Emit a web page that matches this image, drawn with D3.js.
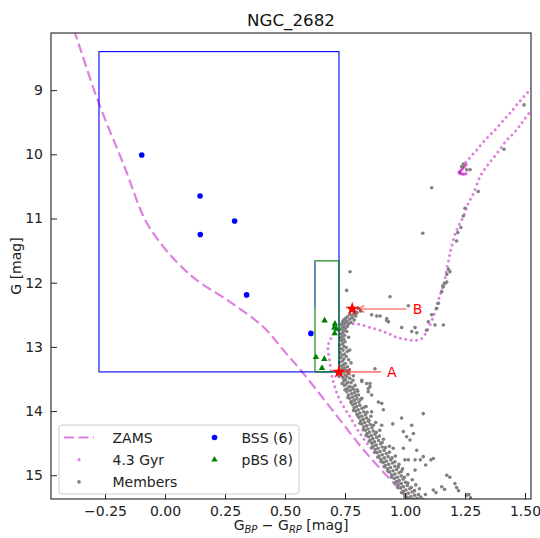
<!DOCTYPE html>
<html>
<head>
<meta charset="utf-8">
<script src="https://cdn.jsdelivr.net/npm/d3@7"></script>
<style>
  body { margin: 0; background: #fff; }
  svg { font-family: "DejaVu Sans", sans-serif; }
</style>
</head>
<body>
<div id="chart"></div>
<script>
// ---- data ----
const title = 'NGC_2682';
const xTicks = [-0.25, 0, 0.25, 0.5, 0.75, 1, 1.25, 1.5];
const yTicks = [9, 10, 11, 12, 13, 14, 15];

// [colour BP-RP, G]
const bssStars = [[-0.097, 10.01], [0.146, 10.65], [0.147, 11.25], [0.290, 11.04], [0.340, 12.19], [0.608, 12.79]];
const pbsStars = [[0.665, 12.59], [0.708, 12.64], [0.705, 12.70], [0.714, 12.72], [0.707, 12.79],
                  [0.629, 13.16], [0.664, 13.19], [0.654, 13.33]];

// selection boxes: [x0, x1, g0, g1]
const bssBox = [-0.275, 0.725, 8.40, 13.39];
const pbsBox = [0.625, 0.725, 11.66, 13.39];
const bssEdge = [[0.625, 11.66], [0.625, 12.40]];

const zams = [[-0.40, 7.85], [-0.375, 8.11], [-0.28, 9.16], [-0.167, 10.21], [-0.083, 11.02], [-0.007, 11.44],
              [0.060, 11.72], [0.132, 11.96], [0.271, 12.30], [0.410, 12.69], [0.493, 13.05], [0.576, 13.41],
              [0.690, 13.95], [0.840, 14.66], [0.979, 15.23], [1.03, 15.45]];

// 4.3 Gyr isochrone: MS -> turn-off -> SGB -> RGB
const isoMain = [[1.04, 15.45], [1.007, 15.33], [0.965, 15.07], [0.924, 14.92], [0.868, 14.63], [0.8125, 14.35],
                 [0.771, 14.09], [0.729, 13.83], [0.701, 13.54], [0.686, 13.22], [0.680, 12.97], [0.700, 12.82],
                 [0.740, 12.70], [0.785, 12.64], [0.868, 12.71], [0.924, 12.78], [0.965, 12.85], [1.000, 12.88],
                 [1.035, 12.90], [1.070, 12.87], [1.090, 12.76], [1.118, 12.53], [1.139, 12.27], [1.160, 12.03],
                 [1.178, 11.72], [1.194, 11.44], [1.215, 11.18], [1.243, 10.97], [1.264, 10.76], [1.285, 10.61],
                 [1.3125, 10.35], [1.340, 10.19], [1.382, 9.99], [1.424, 9.78], [1.465, 9.62], [1.500, 9.44],
                 [1.560, 9.15]];
// red clump -> AGB
const isoAgb = [[1.229, 10.27], [1.250, 10.14], [1.292, 9.96], [1.333, 9.78], [1.375, 9.62], [1.410, 9.47],
                [1.4375, 9.36], [1.470, 9.21], [1.510, 9.04], [1.560, 8.86]];
const isoClump = [[1.255, 10.16], [1.250, 10.18], [1.245, 10.20], [1.240, 10.22], [1.235, 10.24], [1.230, 10.26],
                  [1.225, 10.28], [1.228, 10.30], [1.234, 10.30], [1.240, 10.31], [1.247, 10.31], [1.254, 10.30]];

const members = [
  // turn-off
  [0.790, 12.45], [0.800, 12.47], [0.785, 12.49], [0.772, 12.50], [0.795, 12.52], [0.760, 12.53], [0.780, 12.54],
  [0.752, 12.56], [0.770, 12.57], [0.745, 12.58], [0.788, 12.58], [0.758, 12.60], [0.740, 12.61], [0.775, 12.62],
  [0.750, 12.63], [0.765, 12.64], [0.735, 12.65], [0.745, 12.67], [0.760, 12.68], [0.738, 12.70], [0.752, 12.71],
  [0.733, 12.73], [0.745, 12.75], [0.757, 12.76], [0.740, 12.78], [0.732, 12.80], [0.748, 12.82], [0.738, 12.84],
  [0.730, 12.86], [0.745, 12.88], [0.805, 12.40], [0.815, 12.44], [0.798, 12.46],
  // upper main sequence
  [0.735, 12.90], [0.750, 12.92], [0.740, 12.95], [0.728, 12.97], [0.745, 12.99], [0.755, 13.01], [0.733, 13.03],
  [0.742, 13.05], [0.760, 13.07], [0.730, 13.09], [0.748, 13.11], [0.738, 13.13], [0.755, 13.15], [0.732, 13.17],
  [0.745, 13.19], [0.765, 13.20], [0.740, 13.22], [0.728, 13.24], [0.752, 13.26], [0.744, 13.28], [0.735, 13.30],
  [0.760, 13.31], [0.748, 13.33], [0.738, 13.35], [0.755, 13.37], [0.742, 13.39], [0.765, 13.41], [0.733, 13.42],
  [0.750, 13.44], [0.758, 13.46], [0.742, 13.48], [0.770, 13.49], [0.752, 13.51], [0.745, 13.53], [0.762, 13.55],
  [0.775, 13.56], [0.755, 13.58], [0.748, 13.60], [0.768, 13.62], [0.780, 13.63],
  [0.760, 13.65], [0.785, 13.66], [0.772, 13.68], [0.758, 13.70], [0.790, 13.71], [0.778, 13.73], [0.765, 13.75],
  [0.795, 13.76], [0.782, 13.78], [0.770, 13.80], [0.800, 13.81], [0.788, 13.83], [0.775, 13.85], [0.808, 13.86],
  [0.793, 13.88], [0.782, 13.90], [0.812, 13.91], [0.798, 13.93], [0.788, 13.95], [0.820, 13.96], [0.805, 13.98],
  [0.795, 14.00], [0.828, 14.01], [0.812, 14.03],
  [0.768, 13.36], [0.726, 13.46], [0.783, 13.52], [0.738, 13.57], [0.792, 13.60], [0.750, 13.67], [0.803, 13.69],
  [0.762, 13.79], [0.815, 13.82], [0.776, 13.87], [0.830, 13.94], [0.786, 13.99], [0.842, 14.02], [0.785, 13.45],
  [0.775, 13.25], [0.770, 13.05], [0.765, 12.85], [0.800, 13.67], [0.820, 13.80], [0.838, 13.93],
  // lower main sequence
  [0.800, 14.05], [0.835, 14.06], [0.820, 14.08], [0.808, 14.10], [0.840, 14.11], [0.826, 14.13], [0.815, 14.15],
  [0.848, 14.16], [0.832, 14.18], [0.820, 14.20], [0.855, 14.21], [0.840, 14.23], [0.828, 14.25], [0.862, 14.26],
  [0.846, 14.28], [0.835, 14.30], [0.868, 14.31], [0.852, 14.33], [0.842, 14.35], [0.875, 14.36], [0.860, 14.38],
  [0.848, 14.40], [0.882, 14.41], [0.866, 14.43], [0.855, 14.45], [0.890, 14.46], [0.873, 14.48], [0.862, 14.50],
  [0.898, 14.51], [0.880, 14.53], [0.868, 14.55], [0.905, 14.56], [0.888, 14.58], [0.876, 14.60], [0.913, 14.61],
  [0.896, 14.63], [0.884, 14.65], [0.922, 14.66], [0.905, 14.68], [0.892, 14.70], [0.930, 14.71], [0.914, 14.73],
  [0.900, 14.75], [0.940, 14.76], [0.922, 14.78], [0.910, 14.80], [0.948, 14.81], [0.932, 14.83], [0.918, 14.85],
  [0.958, 14.86], [0.940, 14.88], [0.928, 14.90], [0.965, 14.91], [0.950, 14.93], [0.936, 14.95], [0.975, 14.96],
  [0.958, 14.98], [0.946, 15.00], [0.984, 15.01], [0.968, 15.03], [0.955, 15.05], [0.992, 15.06], [0.976, 15.08],
  [0.964, 15.10], [1.002, 15.11], [0.985, 15.13], [0.972, 15.15], [1.010, 15.16], [0.994, 15.18], [0.982, 15.20],
  [1.020, 15.21], [1.004, 15.23], [0.992, 15.25], [1.030, 15.26], [1.014, 15.28], [1.000, 15.30], [1.040, 15.31],
  [1.024, 15.33], [1.010, 15.35], [1.050, 15.36], [1.035, 15.37], [1.065, 15.34], [1.075, 15.38],
  [0.803, 14.07], [0.850, 14.14], [0.812, 14.19], [0.868, 14.22], [0.826, 14.29], [0.880, 14.33], [0.838, 14.38],
  [0.893, 14.39], [0.851, 14.47], [0.905, 14.49], [0.862, 14.57], [0.918, 14.57], [0.875, 14.64], [0.935, 14.64],
  [0.888, 14.72], [0.946, 14.73], [0.902, 14.79], [0.958, 14.79], [0.915, 14.87], [0.972, 14.87], [0.930, 14.94],
  [0.985, 14.94], [0.944, 15.03], [0.998, 15.03], [0.958, 15.12], [1.012, 15.12], [0.970, 15.19], [1.026, 15.19],
  [0.986, 15.27], [1.040, 15.24], [1.000, 15.34], [1.056, 15.30], [1.018, 15.38], [1.085, 15.30], [1.060, 15.21],
  [1.045, 15.15], [1.030, 15.07], [1.012, 14.99], [0.990, 14.90], [0.975, 14.83], [0.960, 14.70], [0.935, 14.55],
  [0.910, 14.44], [0.895, 14.30], [0.878, 14.18], [0.858, 14.08],
  // binaries / field to the red of the MS
  [0.820, 13.54], [0.847, 13.65], [0.854, 13.57], [0.861, 13.75], [0.889, 13.86], [0.903, 13.88], [0.861, 14.01],
  [0.910, 13.98], [1.076, 14.04], [0.986, 14.11], [1.028, 14.22], [0.903, 14.22], [0.949, 14.20], [0.993, 14.32],
  [1.035, 14.35], [1.007, 14.40], [1.021, 14.45], [0.951, 14.58], [0.993, 14.58], [1.049, 14.61], [1.000, 14.76],
  [1.014, 14.76], [1.042, 14.76], [1.064, 14.76], [1.108, 14.76], [1.076, 14.71], [1.118, 14.74], [1.086, 14.84],
  [1.042, 14.92], [1.118, 15.23], [1.153, 15.18], [1.174, 15.00], [1.187, 15.03], [1.208, 15.13], [1.215, 15.19],
  [1.223, 15.24], [1.129, 15.27], [1.165, 15.22], [1.257, 15.31], [1.266, 15.30], [1.273, 15.35],
  [0.875, 13.34], [0.820, 13.52], [0.840, 13.57], [0.854, 13.62], [0.847, 13.70], [0.806, 13.75],
  // subgiants and giants
  [0.771, 11.83], [0.757, 12.12], [0.9375, 12.22], [1.014, 12.36], [0.861, 12.50], [0.882, 12.52], [0.896, 12.52],
  [0.924, 12.56], [0.924, 12.59], [0.931, 12.61], [0.986, 12.70], [1.042, 12.70], [1.049, 12.78], [1.028, 12.76],
  [1.090, 12.74], [1.125, 12.66], [1.160, 12.66], [1.097, 12.61], [1.111, 12.50], [1.132, 12.40], [1.139, 12.32],
  [1.153, 12.14], [1.160, 12.06], [1.174, 11.99], [1.157, 12.05], [1.167, 12.01], [1.174, 11.87], [1.1875, 11.83],
  [1.181, 11.79], [1.215, 11.35], [1.220, 11.22], [1.233, 11.14], [1.243, 10.96], [1.250, 10.84], [1.305, 10.58],
  [1.074, 11.23], [1.111, 10.52], [1.236, 10.19], [1.243, 10.15], [1.257, 10.24], [1.271, 10.24], [1.4125, 9.92],
  [1.496, 9.23]
];

// highlighted stars with arrows: star position and where the label starts
const marked = [
  { label: 'A', x: 0.725, g: 13.39, tx: 0.925 },
  { label: 'B', x: 0.780, g: 12.41, tx: 1.032 }
];

const legendLeft = [
  { name: 'ZAMS', kind: 'line' },
  { name: '4.3 Gyr', kind: 'iso' },
  { name: 'Members', kind: 'member' }
];
const legendRight = [
  { name: 'BSS (6)', kind: 'bss' },
  { name: 'pBS (8)', kind: 'pbs' }
];

// ---- layout ----
const W = 540, H = 538;
const margin = { top: 33, right: 9, bottom: 39, left: 51 };
const width = W - margin.left - margin.right;
const height = H - margin.top - margin.bottom;

const ISO = 'rgba(191,0,191,0.5)';
const GRAY = '#808080';

const svg = d3.select('#chart').append('svg')
    .attr('width', W)
    .attr('height', H);

const x = d3.scaleLinear().domain([-0.475, 1.525]).range([0, width]);
const y = d3.scaleLinear().domain([8.11, 15.37]).range([0, height]);

const g = svg.append('g').attr('transform', `translate(${margin.left},${margin.top})`);

g.append('clipPath').attr('id', 'plotclip')
  .append('rect').attr('width', width).attr('height', height);

const plot = g.append('g').attr('clip-path', 'url(#plotclip)');

// ZAMS
const line = d3.line().x(d => x(d[0])).y(d => y(d[1])).curve(d3.curveCatmullRom);
plot.append('path')
    .attr('d', line(zams))
    .attr('fill', 'none')
    .attr('stroke', ISO)
    .attr('stroke-width', 2.2)
    .attr('stroke-dasharray', '10,4.5');

// isochrone drawn as dots
[isoMain, isoAgb].forEach(seg => {
    plot.append('path')
        .attr('d', line(seg))
        .attr('fill', 'none')
        .attr('stroke', ISO)
        .attr('stroke-width', 3)
        .attr('stroke-linecap', 'round')
        .attr('stroke-dasharray', '0,5.5');
});
plot.selectAll('.clump').data(isoClump).enter().append('circle')
    .attr('cx', d => x(d[0])).attr('cy', d => y(d[1])).attr('r', 1.6)
    .attr('fill', ISO);

// members
plot.selectAll('.member').data(members).enter().append('circle')
    .attr('cx', d => x(d[0])).attr('cy', d => y(d[1])).attr('r', 1.8)
    .attr('fill', GRAY);

// boxes
function box(b, color) {
    plot.append('rect')
        .attr('x', x(b[0])).attr('y', y(b[2]))
        .attr('width', x(b[1]) - x(b[0])).attr('height', y(b[3]) - y(b[2]))
        .attr('fill', 'none').attr('stroke', color).attr('stroke-width', 1.1);
}
box(bssBox, '#0000ff');
box(pbsBox, '#008000');
plot.append('path').attr('d', d3.line().x(d => x(d[0])).y(d => y(d[1]))(bssEdge))
    .attr('stroke', '#5a6cf0').attr('stroke-width', 1.1).attr('fill', 'none');

// BSS and pBS
plot.selectAll('.bss').data(bssStars).enter().append('circle')
    .attr('cx', d => x(d[0])).attr('cy', d => y(d[1])).attr('r', 2.8)
    .attr('fill', '#0000ff');
const tri = d3.symbol().type(d3.symbolTriangle).size(18);
plot.selectAll('.pbs').data(pbsStars).enter().append('path')
    .attr('d', tri)
    .attr('transform', d => `translate(${x(d[0])},${y(d[1])})`)
    .attr('fill', '#008000');

// marked stars with arrows
const star = d3.symbol().type(d3.symbolStar).size(60);
marked.forEach(m => {
    const sx = x(m.x), sy = y(m.g), tx = x(m.tx);
    const x0 = tx - 6, x1 = sx + 6;
    plot.append('path')
        .attr('d', `M${x0},${sy}L${x1},${sy}M${x1 + 6},${sy - 3.5}L${x1},${sy}L${x1 + 6},${sy + 3.5}`)
        .attr('fill', 'none')
        .attr('stroke', 'rgba(255,0,0,0.5)')
        .attr('stroke-width', 1.6);
    plot.append('path').attr('d', star)
        .attr('transform', `translate(${sx},${sy})`)
        .attr('fill', '#ff0000');
    g.append('text')
        .attr('x', tx).attr('y', sy).attr('dy', '0.36em')
        .attr('fill', '#ff0000')
        .attr('font-size', 14)
        .text(m.label);
});

// axes
const xAxis = g.append('g').attr('transform', `translate(0,${height})`)
    .call(d3.axisBottom(x).tickValues(xTicks).tickFormat(d3.format('.2f')).tickSize(-6).tickPadding(7));
const yAxis = g.append('g')
    .call(d3.axisLeft(y).tickValues(yTicks).tickFormat(d3.format('d')).tickSize(-6).tickPadding(8));
[xAxis, yAxis].forEach(a => {
    a.select('.domain').remove();
    a.selectAll('text').attr('font-size', 14).attr('fill', '#222').attr('font-family', '"DejaVu Sans", sans-serif');
    a.selectAll('line').attr('stroke', '#222').attr('stroke-width', 1);
});

g.append('rect')
    .attr('width', width).attr('height', height)
    .attr('fill', 'none').attr('stroke', '#222').attr('stroke-width', 1.1);

// legend
const lg = g.append('g').attr('transform', 'translate(8,392)');
lg.append('rect')
    .attr('width', 240).attr('height', 69).attr('rx', 3)
    .attr('fill', 'rgba(255,255,255,0.8)').attr('stroke', '#cccccc').attr('stroke-width', 1);

function legendIcon(sel, kind) {
    if (kind === 'line') {
        sel.append('line').attr('x1', -15).attr('x2', 15)
            .attr('stroke', ISO).attr('stroke-width', 2.2).attr('stroke-dasharray', '10,4.5');
    } else if (kind === 'iso') {
        sel.append('circle').attr('r', 1.6).attr('fill', ISO);
    } else if (kind === 'member') {
        sel.append('circle').attr('r', 1.8).attr('fill', GRAY);
    } else if (kind === 'bss') {
        sel.append('circle').attr('r', 2.8).attr('fill', '#0000ff');
    } else {
        sel.append('path').attr('d', tri).attr('fill', '#008000');
    }
}
legendLeft.forEach((d, i) => {
    const row = lg.append('g').attr('transform', `translate(20,${12.5 + i * 22.2})`);
    legendIcon(row, d.kind);
    row.append('text').attr('x', 33.5).attr('dy', '0.36em').attr('font-size', 14).attr('fill', '#222').text(d.name);
});
legendRight.forEach((d, i) => {
    const row = lg.append('g').attr('transform', `translate(155.5,${12.5 + i * 22.2})`);
    legendIcon(row, d.kind);
    row.append('text').attr('x', 27).attr('dy', '0.36em').attr('font-size', 14).attr('fill', '#222').text(d.name);
});

// title and axis labels
svg.append('text')
    .attr('x', margin.left + width / 2).attr('y', 26)
    .attr('text-anchor', 'middle').attr('font-size', 16.7).attr('fill', '#111')
    .text(title);

const xl = svg.append('text')
    .attr('x', margin.left + width / 2).attr('y', 530)
    .attr('text-anchor', 'middle').attr('font-size', 14).attr('fill', '#222');
xl.append('tspan').text('G');
xl.append('tspan').attr('font-size', 10).attr('font-style', 'italic').attr('dy', 3).text('BP');
xl.append('tspan').attr('dy', -3).text(' \u2212 G');
xl.append('tspan').attr('font-size', 10).attr('font-style', 'italic').attr('dy', 3).text('RP');
xl.append('tspan').attr('dy', -3).text(' [mag]');

svg.append('text')
    .attr('transform', `translate(21,${margin.top + height / 2}) rotate(-90)`)
    .attr('text-anchor', 'middle').attr('font-size', 14).attr('fill', '#222')
    .text('G [mag]');
</script>
</body>
</html>
